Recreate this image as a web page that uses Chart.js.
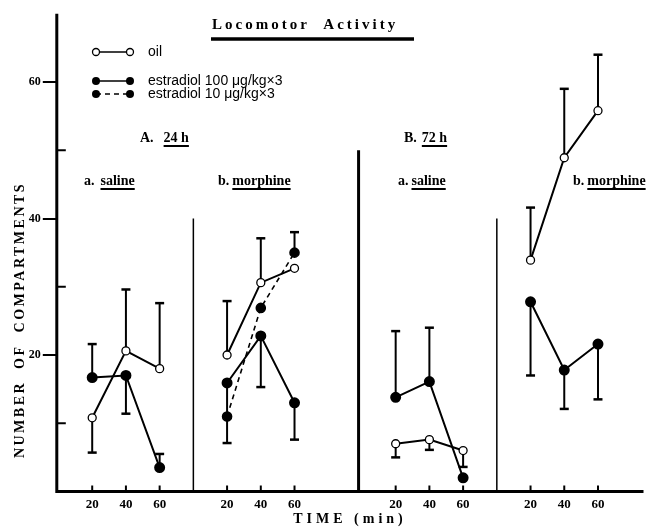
<!DOCTYPE html>
<html><head><meta charset="utf-8">
<script src="https://cdn.jsdelivr.net/npm/chart.js@4"></script>
<style>html,body{margin:0;padding:0;background:#fff}#wrap{position:relative;width:650px;height:527px}</style>
</head><body><div id="wrap"><canvas id="c"></canvas></div>
<script>
// ---- data ----
const panelNames = ['A. 24 h / a. saline', 'A. 24 h / b. morphine', 'B. 72 h / a. saline', 'B. 72 h / b. morphine'];
const timesMin = [20, 40, 60];
const yTickLabels = ['20', '40', '60'];
// means per point: 4 panels x 3 times
const oilMean  = [10.8, 20.6, 18.0,  20.0, 30.6, 32.7,  7.0, 7.6, 6.0,  33.9, 48.9, 55.8];
const oilErr   = [5.7, 29.6, 27.6,   27.9, 37.1, null,  5.0, 6.1, 3.6,  41.6, 59.0, 64.0];
const e100Mean = [16.7, 17.0, 3.5,   15.9, 22.8, 13.0,  13.8, 16.1, 2.0, 27.8, 17.8, 21.6];
const e100Err  = [21.6, 11.4, 5.5,   7.1, 15.3, 7.6,    23.5, 24.0, null, 17.0, 12.1, 13.5];
const e10Mean  = [null, null, null,  11.0, 26.9, 35.0,  null, null, null, null, null, null];
const e10Err   = [null, null, null,  null, null, 38.0,  null, null, null, null, null, null];

// ---- layout on the shared horizontal scale ----
const panelStart = [0, 80, 180, 260];
const xPos = [];
panelStart.forEach(p => timesMin.forEach(t => xPos.push(p + t)));

function series(mean) {
  const out = [];
  mean.forEach((v, i) => {
    if (i > 0 && i % 3 === 0) out.push({x: xPos[i] - 10, y: null});
    out.push({x: xPos[i], y: v});
  });
  return out;
}
function errPairs(err) { return err.map((v, i) => ({x: xPos[i], y: v})); }

const SERIF = '"Liberation Serif", "Times New Roman", serif';
const SANS = '"Liberation Sans", Arial, sans-serif';

const fig = {
  id: 'fig',
  beforeDatasetsDraw(chart) {
    const {ctx, scales: {x, y}} = chart;
    ctx.save();
    ctx.strokeStyle = '#000';
    ctx.lineCap = 'butt';
    // axes
    ctx.lineWidth = 3;
    ctx.beginPath();
    ctx.moveTo(x.left, y.top); ctx.lineTo(x.left, y.bottom);
    ctx.moveTo(x.left - 1.5, y.bottom); ctx.lineTo(x.right, y.bottom);
    ctx.stroke();
    // separators
    [[80, 40, 1.5], [178, 50, 3], [260, 40, 1.5]].forEach(([sx, top, w]) => {
      ctx.lineWidth = w;
      ctx.beginPath();
      ctx.moveTo(x.getPixelForValue(sx), y.getPixelForValue(top));
      ctx.lineTo(x.getPixelForValue(sx), y.bottom);
      ctx.stroke();
    });
    // minor y ticks (inside)
    ctx.lineWidth = 2;
    [10, 30, 50].forEach(v => {
      const py = y.getPixelForValue(v);
      ctx.beginPath(); ctx.moveTo(x.left, py); ctx.lineTo(x.left + 9, py); ctx.stroke();
    });
    // x tick marks (inside)
    xPos.forEach(v => {
      const px = x.getPixelForValue(v);
      ctx.beginPath(); ctx.moveTo(px, y.bottom); ctx.lineTo(px, y.bottom - 6); ctx.stroke();
    });
    // error bars
    chart.data.datasets.forEach(ds => {
      (ds.errEnds || []).forEach((e, i) => {
        if (e.y == null) return;
        const m = ds.data.find(d => d.x === e.x);
        if (!m || m.y == null) return;
        const px = x.getPixelForValue(e.x);
        const p0 = y.getPixelForValue(m.y), p1 = y.getPixelForValue(e.y);
        ctx.lineWidth = 2;
        ctx.beginPath(); ctx.moveTo(px, p0); ctx.lineTo(px, p1); ctx.stroke();
        ctx.lineWidth = 2.5;
        ctx.beginPath(); ctx.moveTo(px - 4.5, p1); ctx.lineTo(px + 4.5, p1); ctx.stroke();
      });
    });
    ctx.restore();
  },
  afterDraw(chart) {
    const {ctx} = chart;
    ctx.save();
    ctx.fillStyle = '#000'; ctx.strokeStyle = '#000';
    // title
    ctx.font = 'bold 15px ' + SERIF;
    ctx.letterSpacing = '3px';
    ctx.textAlign = 'left'; ctx.textBaseline = 'middle';
    ctx.fillText('Locomotor  Activity', 212, 25);
    ctx.letterSpacing = '0px';
    ctx.lineWidth = 3.5;
    ctx.beginPath(); ctx.moveTo(211, 39); ctx.lineTo(414, 39); ctx.stroke();
    // legend
    const leg = [
      {y: 52, open: true, dash: [], text: 'oil'},
      {y: 81, open: false, dash: [], text: 'estradiol 100 \u03BCg/kg\u00D73'},
      {y: 94, open: false, dash: [5, 4], text: 'estradiol 10 \u03BCg/kg\u00D73'}
    ];
    leg.forEach(l => {
      ctx.lineWidth = 1.5; ctx.setLineDash(l.dash);
      ctx.beginPath(); ctx.moveTo(96, l.y); ctx.lineTo(130, l.y); ctx.stroke();
      ctx.setLineDash([]);
      [96, 130].forEach(cx => {
        ctx.beginPath(); ctx.arc(cx, l.y, l.open ? 3.5 : 4, 0, Math.PI * 2);
        if (l.open) { ctx.fillStyle = '#fff'; ctx.fill(); ctx.lineWidth = 1.3; ctx.stroke(); }
        else { ctx.fillStyle = '#000'; ctx.fill(); }
      });
      ctx.fillStyle = '#000';
      ctx.font = '14px ' + SANS; ctx.textAlign = 'left';
      ctx.fillText(l.text, 148, l.y);
    });
    // panel labels
    const lab = (pre, word, x0, yy, gap) => {
      ctx.font = 'bold 14px ' + SERIF; ctx.textAlign = 'left'; ctx.textBaseline = 'middle';
      ctx.fillText(pre, x0, yy);
      const wx = x0 + ctx.measureText(pre).width + gap;
      ctx.fillText(word, wx, yy);
      const w = ctx.measureText(word).width;
      ctx.lineWidth = 2;
      ctx.beginPath(); ctx.moveTo(wx, yy + 8); ctx.lineTo(wx + w, yy + 8); ctx.stroke();
    };
    lab('A.', '24 h', 140, 138, 10);
    lab('B.', '72 h', 404, 138, 5);
    lab('a.', 'saline', 84, 181, 6);
    lab('b.', 'morphine', 218, 181, 3);
    lab('a.', 'saline', 398, 181, 3);
    lab('b.', 'morphine', 573, 181, 3);
    // axis titles
    ctx.font = 'bold 14px ' + SERIF;
    ctx.letterSpacing = '2.5px';
    ctx.textAlign = 'center';
    ctx.save();
    ctx.translate(20, 320); ctx.rotate(-Math.PI / 2);
    ctx.fillText('NUMBER  OF  COMPARTMENTS', 0, 0);
    ctx.restore();
    ctx.font = 'bold 14px ' + SERIF;
    ctx.letterSpacing = '4px';
    ctx.fillText('TIME (min)', 350, 519);
    ctx.restore();
  }
};

const chart = new Chart(document.getElementById('c'), {
  type: 'line',
  data: {
    datasets: [
      {label: 'estradiol 10 \u03BCg/kg\u00D73', data: series(e10Mean), errEnds: errPairs(e10Err),
       borderColor: '#000', borderWidth: 1.6, borderDash: [5, 4], pointRadius: 4.5,
       pointBackgroundColor: '#000', pointBorderColor: '#000', spanGaps: false},
      {label: 'estradiol 100 \u03BCg/kg\u00D73', data: series(e100Mean), errEnds: errPairs(e100Err),
       borderColor: '#000', borderWidth: 2, pointRadius: 4.5,
       pointBackgroundColor: '#000', pointBorderColor: '#000', spanGaps: false},
      {label: 'oil', data: series(oilMean), errEnds: errPairs(oilErr),
       borderColor: '#000', borderWidth: 2, pointRadius: 4, pointBorderWidth: 1.3,
       pointBackgroundColor: '#fff', pointBorderColor: '#000', spanGaps: false}
    ]
  },
  options: {
    responsive: true, maintainAspectRatio: false, animation: false,
    layout: {padding: {top: 13.75, right: 1.6, left: 0, bottom: 0}},
    plugins: {legend: {display: false}, tooltip: {enabled: false}},
    scales: {
      x: {
        type: 'linear', min: -1, max: 347,
        afterFit: s => { s.height = 35.5; },
        afterBuildTicks: s => { s.ticks = xPos.map(v => ({value: v})); },
        ticks: {
          autoSkip: false, maxRotation: 0, padding: 5, color: '#000',
          font: {family: SERIF, size: 13, weight: 'bold'},
          callback: v => { const i = xPos.indexOf(v); return i < 0 ? '' : String(timesMin[i % 3]); }
        },
        grid: {display: false, drawTicks: false}, border: {display: false}
      },
      y: {
        min: 0, max: 70,
        afterFit: s => { s.width = 56.8; },
        ticks: {
          stepSize: 10, padding: 2, color: '#000',
          font: {family: SERIF, size: 12, weight: 'bold'},
          callback: v => yTickLabels.includes(String(v)) ? String(v) : ''
        },
        grid: {drawOnChartArea: false, drawTicks: true, tickLength: 14, lineWidth: 2,
               color: c => (c.tick && yTickLabels.includes(String(c.tick.value))) ? '#000' : 'rgba(0,0,0,0)'},
        border: {display: false}
      }
    }
  },
  plugins: [fig]
});
</script></body></html>
